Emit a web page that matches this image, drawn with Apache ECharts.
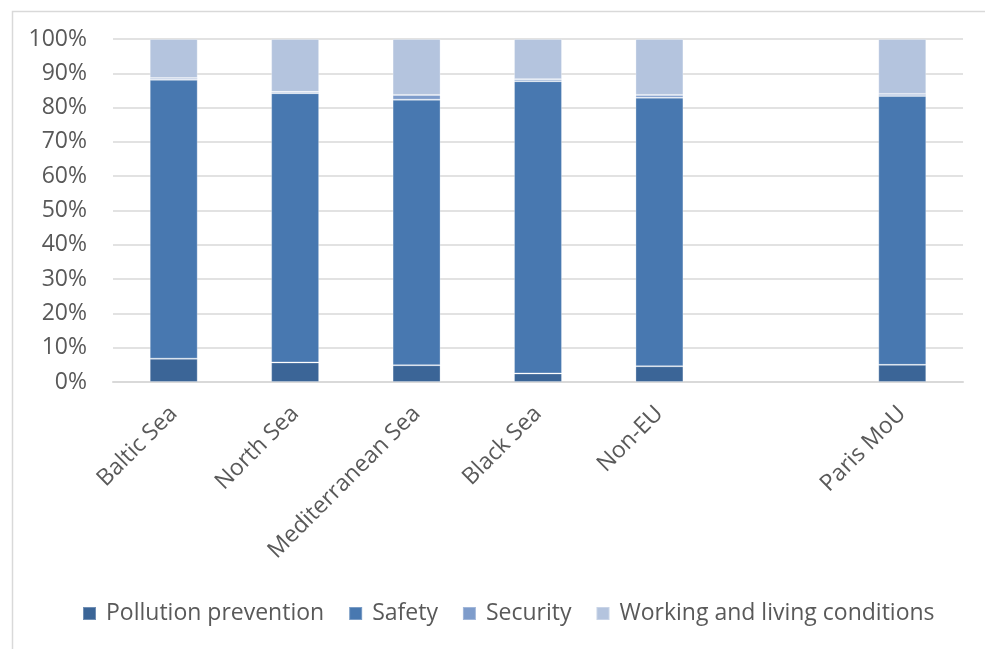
<!DOCTYPE html>
<html>
<head>
<meta charset="utf-8">
<script src="https://cdn.jsdelivr.net/npm/echarts@6/dist/echarts.min.js"></script>
<style>
  html, body { margin: 0; padding: 0; background: #fff; }
  #chart { width: 985px; height: 649px; }
</style>
</head>
<body>
<div id="chart"></div>
<script>
// Share of deficiencies by area (percent of total)
const categories = ['Baltic Sea', 'North Sea', 'Mediterranean Sea', 'Black Sea', 'Non-EU', '', 'Paris MoU'];
const pollutionPrevention = [6.8, 5.7, 4.9, 2.5, 4.6, null, 5.0];
const safety = [81.3, 78.5, 77.4, 85.2, 78.3, null, 78.4];
const security = [0.5, 0.4, 1.4, 0.6, 0.8, null, 0.6];
const workingLiving = [11.4, 15.4, 16.3, 11.7, 16.3, null, 16.0];
const yTicks = [0, 10, 20, 30, 40, 50, 60, 70, 80, 90, 100];

const FONT = 'Open Sans';
const seriesDefs = [
  { name: 'Pollution prevention', data: pollutionPrevention, color: '#3b6597' },
  { name: 'Safety', data: safety, color: '#4878b0' },
  { name: 'Security', data: security, color: '#7e9ccb' },
  { name: 'Working and living conditions', data: workingLiving, color: '#b4c4de' }
];

const chart = echarts.init(document.getElementById('chart'), null, { renderer: 'canvas' });
chart.setOption({
  animation: false,
  backgroundColor: '#ffffff',
  graphic: [{
    type: 'rect',
    left: 10, top: 9,
    shape: { width: 1000, height: 700 },
    style: { fill: 'none', stroke: '#d9d9d9', lineWidth: 1.5 },
    silent: true
  }],
  grid: { left: 113, right: 22, top: 39, bottom: 267, containLabel: false },
  legend: {
    top: 597,
    left: 77,
    itemWidth: 13,
    itemHeight: 13,
    itemGap: 24,
    icon: 'rect',
    textStyle: { fontFamily: FONT, fontSize: 23, color: '#595959', padding: [0, 0, 0, 5] },
    data: seriesDefs.map(s => s.name)
  },
  xAxis: {
    type: 'category',
    data: categories,
    axisLine: { lineStyle: { color: '#d9d9d9', width: 2 } },
    axisTick: { show: false },
    axisLabel: {
      interval: 0,
      rotate: 45,
      margin: 28,
      fontFamily: FONT,
      fontSize: 23,
      color: '#595959'
    }
  },
  yAxis: {
    type: 'value',
    min: 0,
    max: 100,
    interval: 10,
    axisLine: { show: false },
    axisTick: { show: false },
    splitLine: { lineStyle: { color: '#d9d9d9', width: 1.5 } },
    axisLabel: {
      margin: 26,
      fontFamily: FONT,
      fontSize: 23,
      color: '#595959',
      formatter: v => (yTicks.includes(v) ? v + '%' : '')
    }
  },
  series: seriesDefs.map(s => ({
    name: s.name,
    type: 'bar',
    stack: 'total',
    barWidth: '39.5%',
    data: s.data,
    itemStyle: { color: s.color, borderColor: 'rgba(255,255,255,0.28)', borderWidth: 1 }
  }))
});
</script>
</body>
</html>
